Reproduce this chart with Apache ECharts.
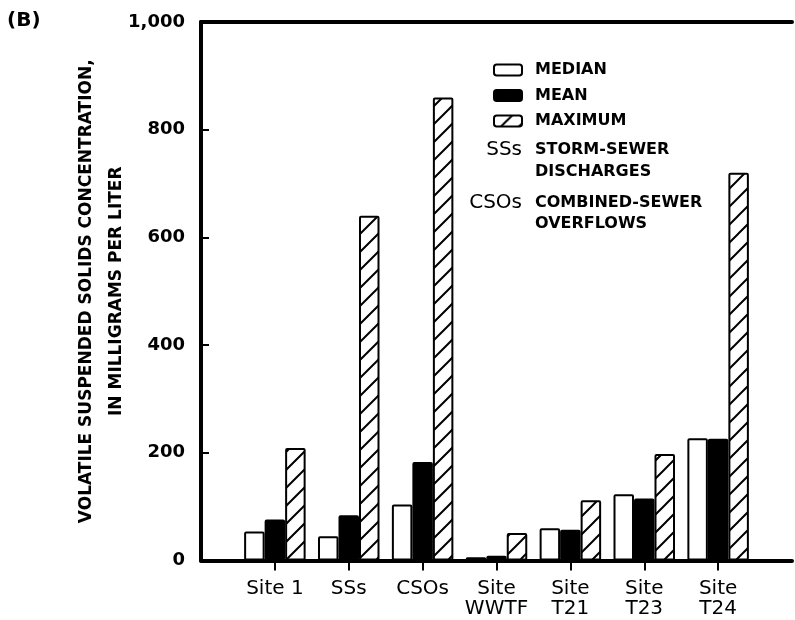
<!DOCTYPE html>
<html>
<head>
<meta charset="utf-8">
<script src="https://cdn.jsdelivr.net/npm/echarts@6/dist/echarts.min.js"></script>
<style>html,body{margin:0;padding:0;background:#fff}#c{width:795px;height:620px}</style>
</head>
<body>
<div id="c"></div>
<script>
const categories = ['Site 1', 'SSs', 'CSOs', 'Site\nWWTF', 'Site\nT21', 'Site\nT23', 'Site\nT24'];
const medianValues = [54, 45, 104, 6, 60, 123, 227];
const meanValues = [76, 84, 183, 9, 57, 115, 226];
const maximumValues = [209, 640, 860, 51, 112, 198, 720];
const yTicks = [0, 200, 400, 600, 800, 1000];

const pad = a => [null].concat(a, [null]);
const cats = [''].concat(categories, ['']);

// hatch pattern
const tile = document.createElement('canvas');
tile.width = 18; tile.height = 18;
const g = tile.getContext('2d');
g.fillStyle = '#fff'; g.fillRect(0, 0, 18, 18);
g.strokeStyle = '#000'; g.lineWidth = 2;
g.beginPath();
g.moveTo(-2, 20); g.lineTo(20, -2);
g.moveTo(-2, 2); g.lineTo(2, -2);
g.moveTo(16, 20); g.lineTo(20, 16);
g.stroke();

const chart = echarts.init(document.getElementById('c'), null, {renderer: 'canvas'});
const boldFont = '"DejaVu Sans", sans-serif';
const option = {
  backgroundColor: '#fff',
  animation: false,
  grid: {left: 201, right: -2, top: 22, bottom: 59.5, containLabel: false},
  legend: {
    orient: 'vertical', left: 493, top: 62, padding: 0,
    itemWidth: 28, itemHeight: 11, itemGap: 9.5,
    icon: 'roundRect',
    selectedMode: false,
    textStyle: {fontFamily: boldFont, fontWeight: 'bold', fontSize: 16, lineHeight: 16, color: '#000', padding: [0, 0, 0, 8]},
    data: ['MEDIAN', 'MEAN', 'MAXIMUM']
  },
  xAxis: [{
    type: 'category', data: cats, boundaryGap: false, position: 'bottom',
    axisLine: {show: true, lineStyle: {color: '#000', width: 4}},
    axisTick: {show: true, length: 10, lineStyle: {color: '#000', width: 2}, interval: (i) => i > 0 && i < cats.length - 1},
    axisLabel: {interval: 0, margin: 18, color: '#000', fontFamily: boldFont, fontSize: 20, lineHeight: 20},
    splitLine: {show: false}
  }, {
    type: 'category', data: cats, boundaryGap: false, position: 'top',
    axisLine: {show: true, lineStyle: {color: '#000', width: 4}},
    axisTick: {show: false}, axisLabel: {show: false}, splitLine: {show: false}
  }],
  yAxis: {
    type: 'value', min: yTicks[0], max: yTicks[yTicks.length - 1], interval: 200,
    name: 'VOLATILE SUSPENDED SOLIDS CONCENTRATION,\nIN MILLIGRAMS PER LITER',
    nameLocation: 'middle', nameRotate: 90, nameGap: 69, nameMoveOverlap: false,
    nameTextStyle: {fontFamily: boldFont, fontWeight: 'bold', fontSize: 17, lineHeight: 30, color: '#000', align: 'center'},
    axisLine: {show: true, lineStyle: {color: '#000', width: 4}},
    axisTick: {show: true, inside: true, length: 8, lineStyle: {color: '#000', width: 2}},
    axisLabel: {margin: 16, color: '#000', fontFamily: boldFont, fontWeight: 'bold', fontSize: 18,
      formatter: v => v.toLocaleString('en-US')},
    splitLine: {show: false}
  },
  series: [
    {name: 'MEDIAN', type: 'bar', data: pad(medianValues), barWidth: 20.5, barGap: '0%',
      itemStyle: {color: '#fff', borderColor: '#000', borderWidth: 2, borderRadius: 1}},
    {name: 'MEAN', type: 'bar', data: pad(meanValues), barWidth: 20.5, barGap: '0%',
      itemStyle: {color: '#000', borderColor: '#000', borderWidth: 2, borderRadius: 1}},
    {name: 'MAXIMUM', type: 'bar', data: pad(maximumValues), barWidth: 20.5, barGap: '0%',
      itemStyle: {color: {image: tile, repeat: 'repeat'}, borderColor: '#000', borderWidth: 2, borderRadius: 1}}
  ],
  graphic: [
    {type: 'text', left: 7, top: 11, style: {text: '(B)', font: 'bold 20px "DejaVu Sans"', fill: '#000'}},
    {type: 'text', x: 522, y: 150, style: {text: 'SSs', font: '20px "DejaVu Sans"', fill: '#000', align: 'right', verticalAlign: 'middle'}},
    {type: 'text', x: 535, y: 150, style: {text: 'STORM-SEWER', font: 'bold 16px "DejaVu Sans"', fill: '#000', align: 'left', verticalAlign: 'middle'}},
    {type: 'text', x: 535, y: 172, style: {text: 'DISCHARGES', font: 'bold 16px "DejaVu Sans"', fill: '#000', align: 'left', verticalAlign: 'middle'}},
    {type: 'text', x: 522, y: 203, style: {text: 'CSOs', font: '20px "DejaVu Sans"', fill: '#000', align: 'right', verticalAlign: 'middle'}},
    {type: 'text', x: 535, y: 203, style: {text: 'COMBINED-SEWER', font: 'bold 16px "DejaVu Sans"', fill: '#000', align: 'left', verticalAlign: 'middle'}},
    {type: 'text', x: 535, y: 224, style: {text: 'OVERFLOWS', font: 'bold 16px "DejaVu Sans"', fill: '#000', align: 'left', verticalAlign: 'middle'}}
  ]
};
chart.setOption(option);
</script>
</body>
</html>
